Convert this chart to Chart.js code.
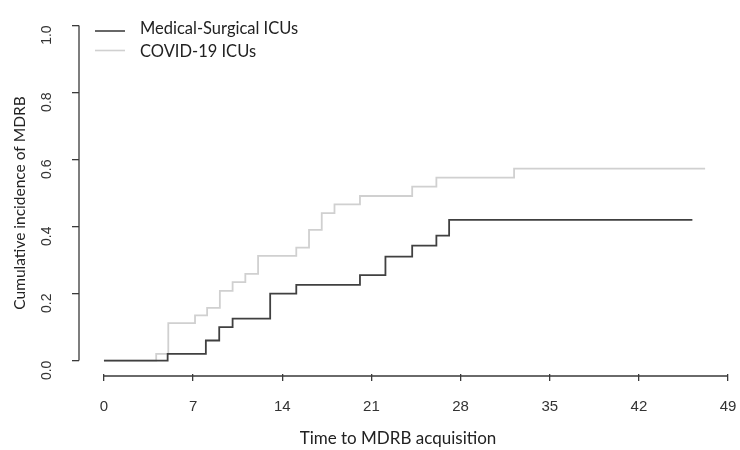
<!DOCTYPE html>
<html>
<head>
<meta charset="utf-8">
<script src="https://cdn.jsdelivr.net/npm/chart.js@4.4.1/dist/chart.umd.min.js"></script>
<style>
  html, body { margin: 0; padding: 0; background: #fff; }
  #wrap { width: 740px; height: 450px; }
</style>
</head>
<body>
<div id="wrap"><canvas id="chartMdrb" width="740" height="450"></canvas></div>
<script>
// Curvas de incidencia acumulada (escalones)
const SERIE_NOMBRES = ['Medical-Surgical ICUs', 'COVID-19 ICUs'];

const tiemposMedQx = [0, 5.0, 8.0, 9.05, 10.1, 13.05, 15.1, 20.1, 22.1, 24.2, 26.1, 27.1, 46.2];
const valoresMedQx = [0, 0.02, 0.06, 0.10, 0.125, 0.20, 0.226, 0.255, 0.31, 0.343, 0.373, 0.42, 0.42];

const tiemposCovid = [0, 4.1, 5.05, 7.15, 8.1, 9.1, 10.1, 11.1, 12.1, 15.1, 16.1, 17.1, 18.1, 20.1, 24.2, 26.1, 32.2, 47.2];
const valoresCovid = [0, 0.02, 0.112, 0.135, 0.157, 0.208, 0.234, 0.259, 0.3125, 0.337, 0.39, 0.44, 0.466, 0.491, 0.519, 0.546, 0.573, 0.573];

const TICKS_X = [0, 7, 14, 21, 28, 35, 42, 49];
const TICKS_Y = [0, 0.2, 0.4, 0.6, 0.8, 1.0];

const TITULO_X = 'Time to MDRB acquisition';
const TITULO_Y = 'Cumulative incidence of MDRB';

const COLORES = ['#404040', '#d0d0d0'];
const TINTA = '#3a3a3a';
const FUENTE_TEXTO = 'Lato, "Noto Sans", sans-serif';
const FUENTE_NUM = '"Liberation Sans", Arial, sans-serif';

const aPuntos = (ts, vs) => ts.map((t, i) => ({ x: t, y: vs[i] }));

// Ejes estilo R: la línea sólo cubre del primer al último tick,
// más títulos de eje y leyenda dibujados a mano
const ejesR = {
    id: 'ejesR',
    afterDraw(chart) {
        const { ctx, chartArea, scales: { x, y } } = chart;
        ctx.save();
        ctx.strokeStyle = TINTA;
        ctx.lineWidth = 1.3;
        ctx.beginPath();
        ctx.moveTo(x.getPixelForValue(TICKS_X[0]), chartArea.bottom + 2);
        ctx.lineTo(x.getPixelForValue(TICKS_X[TICKS_X.length - 1]), chartArea.bottom + 2);
        ctx.moveTo(chartArea.left, y.getPixelForValue(TICKS_Y[0]));
        ctx.lineTo(chartArea.left, y.getPixelForValue(TICKS_Y[TICKS_Y.length - 1]));
        ctx.stroke();

        // títulos
        ctx.fillStyle = '#222';
        ctx.textAlign = 'center';
        ctx.textBaseline = 'middle';
        ctx.font = `17px ${FUENTE_TEXTO}`;
        ctx.fillText(TITULO_X, 398, 439);
        ctx.save();
        ctx.translate(20, 203);
        ctx.rotate(-Math.PI / 2);
        ctx.font = `15.5px ${FUENTE_TEXTO}`;
        ctx.fillText(TITULO_Y, 0, 0);
        ctx.restore();

        // leyenda arriba a la izquierda
        ctx.textAlign = 'left';
        ctx.font = `16.5px ${FUENTE_TEXTO}`;
        chart.data.datasets.forEach((ds, i) => {
            const yy = 31 + i * 19.5;
            ctx.strokeStyle = ds.borderColor;
            ctx.lineWidth = 1.6;
            ctx.beginPath();
            ctx.moveTo(95, yy);
            ctx.lineTo(125, yy);
            ctx.stroke();
            ctx.fillStyle = '#222';
            ctx.fillText(ds.label, 140, yy - 2 + i * 3);
        });
        ctx.restore();
    },
};

new Chart(document.getElementById('chartMdrb').getContext('2d'), {
    type: 'line',
    data: {
        datasets: [
            {
                label: SERIE_NOMBRES[0],
                data: aPuntos(tiemposMedQx, valoresMedQx),
                borderColor: COLORES[0],
                borderWidth: 1.8,
                stepped: true,
                pointRadius: 0,
                fill: false,
            },
            {
                label: SERIE_NOMBRES[1],
                data: aPuntos(tiemposCovid, valoresCovid),
                borderColor: COLORES[1],
                borderWidth: 1.8,
                stepped: true,
                pointRadius: 0,
                fill: false,
            },
        ],
    },
    options: {
        responsive: false,
        animation: false,
        layout: { padding: { top: 12, right: 1, left: 0, bottom: 0 } },
        plugins: {
            legend: { display: false },
            tooltip: { enabled: false },
        },
        scales: {
            x: {
                type: 'linear',
                min: -1.96,
                max: 49.86,
                afterBuildTicks: (s) => { s.ticks = TICKS_X.map(v => ({ value: v })); },
                afterFit: (s) => { s.height = 76; s.paddingLeft = 0; s.paddingRight = 0; },
                border: { display: false },
                grid: { drawOnChartArea: false, drawTicks: true, tickLength: 7, color: TINTA, lineWidth: 1.3, offset: false },
                ticks: {
                    padding: 17,
                    color: '#333',
                    font: { family: FUENTE_NUM, size: 15 },
                    maxRotation: 0,
                    autoSkip: false,
                },
            },
            y: {
                type: 'linear',
                min: -0.04,
                max: 1.04,
                afterBuildTicks: (s) => { s.ticks = TICKS_Y.map(v => ({ value: v })); },
                afterFit: (s) => { s.width = 79; s.paddingTop = 0; s.paddingBottom = 0; },
                border: { display: false },
                grid: { drawOnChartArea: false, drawTicks: true, tickLength: 7, color: TINTA, lineWidth: 1.3 },
                ticks: {
                    padding: 25,
                    color: '#333',
                    minRotation: 90,
                    maxRotation: 90,
                    autoSkip: false,
                    font: { family: FUENTE_NUM, size: 14 },
                    callback: (v) => Number(v).toFixed(1),
                },
            },
        },
    },
    plugins: [ejesR],
});
</script>
</body>
</html>
